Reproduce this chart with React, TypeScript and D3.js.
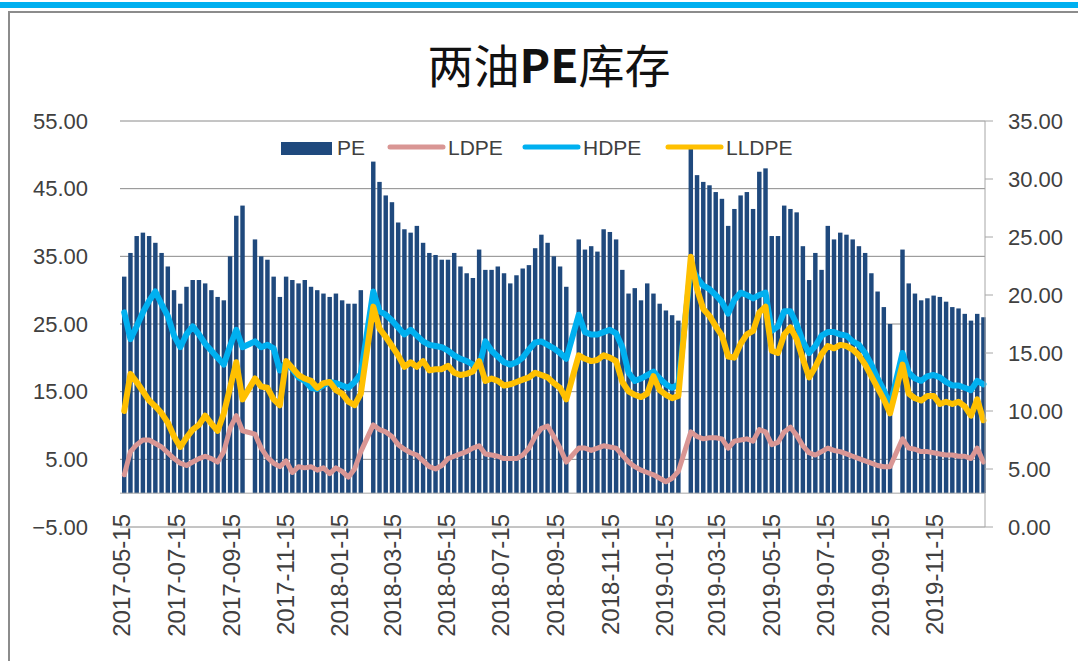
import React, { useEffect, useRef } from "react";
import * as d3 from "d3";

// weekly readings, one entry per Monday from 2017-05-15 (null = holiday week)
const firstWeek = new Date(2017, 4, 15);
const lastWeek = new Date(2020, 0, 6);
const weeks = d3.timeMonday.range(firstWeek, d3.timeDay.offset(lastWeek, 1));

const peValues = [
  32, 35.5, 38, 38.5, 38, 37, 35.5, 33.5, 30, 28,
  30.5, 31.5, 31.5, 31, 30, 29, 28.5, 35, 41, 42.5,
  null, 37.5, 35, 34.5, 32, 29, 32, 31.5, 31, 31.5,
  30.5, 30, 29.5, 29, 29.5, 28.5, 28, 28, 30, null,
  49, 46, 44, 43, 40, 39, 38.5, 39.5, 37, 35.5,
  35.2, 34.5, 34.5, 35.5, 33.5, 32.5, 31.8, 36, 33, 33,
  33.5, 32.5, 31, 32.2, 33.2, 33.7, 36.2, 38.2, 37, 35,
  33.5, 30.5, null, 37.5, 36, 36.5, 35.7, 39, 38.6, 37.5,
  33, 29.5, 30.3, 28.5, 31, 29.5, 28, 27, 26.3, 25.5,
  null, 51, 47, 46, 45.5, 44.5, 43.5, 39.5, 42, 44,
  44.5, 42, 47.5, 48, 38, 38, 42.5, 42, 41.5, 36.5,
  31.5, 35.5, 33, 39.5, 37.5, 38.5, 38.2, 37.5, 36.5, 35.5,
  32.5, 29.8, 27.5, 25, null, 36, 31, 29.5, 28.5, 28.8,
  29.2, 29, 28.3, 27.5, 27.3, 26.5, 25.5, 26.5, 26,
];

const ldpeValues = [
  4.5, 6.5, 7.1, 7.5, 7.5, 7.2, 6.9, 6.4, 5.9, 5.5,
  5.3, 5.6, 5.9, 6.1, 5.9, 5.6, 6.5, 8.5, 9.6, 8.3,
  null, 8, 6.8, 6, 5.5, 5.2, 5.7, 4.7, 5.2, 5.1,
  5.2, 4.9, 5.1, 4.6, 5.1, 4.8, 4.3, 5, 6.5, null,
  8.8, 8.4, 8.2, 7.8, 7.1, 6.7, 6.4, 6.2, 5.7, 5.2,
  5, 5.3, 5.9, 6.1, 6.3, 6.5, 6.8, 7, 6.3, 6.2,
  6.1, 5.9, 5.9, 5.9, 6.2, 6.8, 7.8, 8.5, 8.7, 7.8,
  6.8, 5.6, null, 6.8, 6.8, 6.6, 6.8, 7, 6.9, 6.8,
  6.2, 5.6, 5.2, 4.9, 4.7, 4.5, 4.2, 3.9, 4.2, 4.8,
  null, 8.2, 7.8, 7.6, 7.7, 7.7, 7.6, 6.8, 7.4, 7.5,
  7.6, 7.4, 8.4, 8.2, 7.1, 7.3, 8.2, 8.6, 7.9, 7,
  6.4, 6.2, 6.5, 6.8, 6.6, 6.5, 6.3, 6.1, 5.9, 5.7,
  5.5, 5.3, 5.2, 5.2, null, 7.6, 6.8, 6.7, 6.5, 6.5,
  6.4, 6.3, 6.2, 6.2, 6.1, 6.1, 5.9, 6.8, 5.6,
];

const hdpeValues = [
  18.5, 16.2, 17.3, 18.5, 19.5, 20.3, 19.2, 18.2, 16.5, 15.5,
  16.6, 17.3, 16.6, 15.8, 15.2, 14.6, 14, 15.6, 17, 15.5,
  null, 16, 15.5, 15.7, 15.4, 13.5, 14.2, 13.6, 12.9, 12.6,
  12, 11.9, 12.2, 12.5, 12.4, 12.2, 12, 12.5, 13.2, null,
  20.3, 18.6, 18.3, 17.8, 17.2, 16.6, 17, 16.5, 16, 15.7,
  15.6, 15.5, 15.2, 14.8, 14.5, 14.3, 14, 13.8, 16, 15.2,
  14.7, 14.2, 14, 14.2, 14.6, 15.3, 15.9, 16, 15.7, 15.4,
  15, 14.5, null, 18.3, 16.8, 16.6, 16.6, 16.8, 17, 16.7,
  15.5, 13.3, 12.6, 12.8, 13.1, 13.4, 12.8, 12.3, 12, 12.3,
  null, 22.4, 21.5, 20.8, 20.5, 20, 19.4, 18.4, 19.6, 20.2,
  20, 19.7, 20, 20.2, 16.9, 17.3, 18.6, 18.6, 17.5, 16,
  15, 15.6, 16.5, 16.8, 16.8, 16.6, 16.5, 16, 15.7, 15,
  14, 12.8, 11.8, 10.4, null, 15, 13.3, 12.8, 12.6, 13,
  13.1, 12.9, 12.5, 12.2, 12.2, 12, 11.8, 12.6, 12.3,
];

const lldpeValues = [
  10, 13.2, 12.5, 11.7, 10.9, 10.4, 9.8, 9, 7.8, 6.9,
  7.7, 8.4, 8.8, 9.6, 8.9, 8.3, 9.8, 12, 14.2, 11,
  null, 12.8, 12.1, 12, 11, 10.5, 14.3, 13.7, 13.1, 12.8,
  12.6, 12, 12.4, 12.5, 11.8, 11.5, 10.8, 10.5, 11.5, null,
  19, 17.1, 16.4, 15.6, 14.8, 13.8, 14.2, 13.8, 14.3, 13.5,
  13.6, 13.6, 13.9, 13.3, 13.1, 13.2, 13.4, 14.3, 12.6, 12.8,
  12.6, 12.2, 12.3, 12.5, 12.7, 12.9, 13.3, 13.1, 12.9, 12.4,
  12, 11, null, 14.8, 14.5, 14.3, 14.4, 14.8, 14.6, 14.3,
  12.5, 11.7, 11.4, 11.2, 11.5, 13, 11.8, 11.4, 11.1, 11.3,
  null, 23.3, 20.5, 18.8, 18.2, 17.3, 16.5, 14.7, 14.6, 15.8,
  16.6, 16.9, 18.5, 19, 15.2, 15, 16.6, 17.2, 16.2, 14.5,
  12.9, 13.8, 14.9, 15.6, 15.4, 15.7, 15.6, 15.3, 14.8, 14,
  13, 12, 11, 9.8, null, 14, 11.5, 11.1, 10.9, 11.3,
  11.3, 10.6, 10.8, 10.6, 10.8, 10.4, 9.6, 11, 9.2,
];

const xTickLabels = [
  "2017-05-15", "2017-07-15", "2017-09-15", "2017-11-15",
  "2018-01-15", "2018-03-15", "2018-05-15", "2018-07-15",
  "2018-09-15", "2018-11-15", "2019-01-15", "2019-03-15",
  "2019-05-15", "2019-07-15", "2019-09-15", "2019-11-15",
];
const leftTicks = [-5, 5, 15, 25, 35, 45, 55];
const rightTicks = [0, 5, 10, 15, 20, 25, 30, 35];

const lineSeries = [
  { name: "LDPE", values: ldpeValues, color: "#D99694", width: 5 },
  { name: "HDPE", values: hdpeValues, color: "#00B0F0", width: 6 },
  { name: "LLDPE", values: lldpeValues, color: "#FFC000", width: 6 },
];

const W = 1078;
const H = 661;
const plot = { left: 120, right: 985, top: 121, bottom: 527 };
const barColor = "#1F497D";
const textColor = "#404040";
const latin = "'Liberation Sans', Arial, sans-serif";

export default function App() {
  const ref = useRef<SVGSVGElement | null>(null);

  useEffect(() => {
    const svg = d3.select(ref.current);
    svg.selectAll("*").remove();

    const x = d3.scaleTime()
      .domain([new Date(2017, 4, 12, 18), new Date(2020, 0, 10, 6)])
      .range([plot.left, plot.right]);
    const yL = d3.scaleLinear().domain([-5, 55]).range([plot.bottom, plot.top]);
    const yR = d3.scaleLinear().domain([0, 35]).range([plot.bottom, plot.top]);
    const fmt = d3.format(".2f");
    const parse = d3.timeParse("%Y-%m-%d");

    // page decoration: blue strip and chart frame
    svg.append("rect").attr("x", 0).attr("y", 2).attr("width", W).attr("height", 6).attr("fill", "#00B0F0");
    svg.append("rect").attr("x", 9).attr("y", 12).attr("width", W + 20).attr("height", H + 20)
      .attr("fill", "white").attr("stroke", "#8c8c8c").attr("stroke-width", 2);

    // title
    const title = svg.append("text")
      .attr("x", 549).attr("y", 83)
      .attr("text-anchor", "middle")
      .attr("font-family", "'Noto Sans CJK SC', sans-serif")
      .attr("font-size", 46)
      .attr("fill", "#111");
    title.append("tspan").text("两油");
    title.append("tspan").attr("font-weight", "bold").text("PE");
    title.append("tspan").text("库存");

    // gridlines
    svg.append("g").selectAll("line").data(leftTicks).join("line")
      .attr("x1", plot.left).attr("x2", plot.right)
      .attr("y1", d => yL(d)).attr("y2", d => yL(d))
      .attr("stroke", "#8a8a8a").attr("stroke-width", 1);

    // PE bars (Mon-Fri of each week)
    const barData = weeks.map((w, i) => ({ w, v: peValues[i] })).filter(d => d.v != null);
    svg.append("g").selectAll("rect").data(barData).join("rect")
      .attr("x", d => x(d.w))
      .attr("width", d => x(d3.timeDay.offset(d.w, 5)) - x(d.w))
      .attr("y", d => yL(d.v as number))
      .attr("height", d => yL(0) - yL(d.v as number))
      .attr("fill", barColor);

    // category axis at 0
    svg.append("line")
      .attr("x1", plot.left).attr("x2", plot.right)
      .attr("y1", yL(0)).attr("y2", yL(0))
      .attr("stroke", "#a6a6a6").attr("stroke-width", 1);

    // lines on secondary axis
    const mid = (w: Date) => x(d3.timeHour.offset(w, 60));
    lineSeries.forEach(s => {
      const pts = weeks.map((w, i) => ({ w, v: s.values[i] })).filter(d => d.v != null);
      const line = d3.line<{ w: Date; v: number | null }>()
        .x(d => mid(d.w))
        .y(d => yR(d.v as number));
      svg.append("path")
        .datum(pts)
        .attr("d", line)
        .attr("fill", "none")
        .attr("stroke", s.color)
        .attr("stroke-width", s.width)
        .attr("stroke-linejoin", "round")
        .attr("stroke-linecap", "round");
    });

    // right axis line + ticks
    svg.append("line")
      .attr("x1", plot.right).attr("x2", plot.right)
      .attr("y1", plot.top).attr("y2", plot.bottom)
      .attr("stroke", "#a6a6a6");
    svg.append("g").selectAll("line").data(rightTicks).join("line")
      .attr("x1", plot.right).attr("x2", plot.right + 8)
      .attr("y1", d => yR(d)).attr("y2", d => yR(d))
      .attr("stroke", "#a6a6a6");

    // y labels
    svg.append("g").selectAll("text").data(leftTicks).join("text")
      .attr("x", 88).attr("y", d => yL(d))
      .attr("dy", "0.35em")
      .attr("text-anchor", "end")
      .attr("font-family", latin).attr("font-size", 22).attr("fill", textColor)
      .text(d => fmt(d));
    svg.append("g").selectAll("text").data(rightTicks).join("text")
      .attr("x", 1008).attr("y", d => yR(d))
      .attr("dy", "0.35em")
      .attr("font-family", latin).attr("font-size", 22).attr("fill", textColor)
      .text(d => fmt(d));

    // x labels
    svg.append("g").selectAll("text").data(xTickLabels).join("text")
      .attr("transform", d => `translate(${x(parse(d) as Date)},514) rotate(-90)`)
      .attr("dy", "0.35em")
      .attr("text-anchor", "end")
      .attr("font-family", latin).attr("font-size", 24).attr("fill", textColor)
      .text(d => d);

    // legend
    const lg = svg.append("g").attr("font-family", latin).attr("font-size", 21).attr("fill", textColor);
    lg.append("rect").attr("x", 281).attr("y", 142).attr("width", 51).attr("height", 13).attr("fill", barColor);
    lg.append("text").attr("x", 337).attr("y", 148).attr("dy", "0.35em").text("PE");
    const legendPos = [390, 525, 668];
    lineSeries.forEach((s, i) => {
      const lx = legendPos[i];
      lg.append("line")
        .attr("x1", lx).attr("x2", lx + 53).attr("y1", 147).attr("y2", 147)
        .attr("stroke", s.color).attr("stroke-width", 5).attr("stroke-linecap", "round");
      lg.append("text").attr("x", lx + 58).attr("y", 148).attr("dy", "0.35em").text(s.name);
    });
  }, []);

  return (
    <svg
      ref={ref}
      width={W}
      height={H}
      style={{ position: "fixed", left: 0, top: 0, background: "white" }}
    />
  );
}
